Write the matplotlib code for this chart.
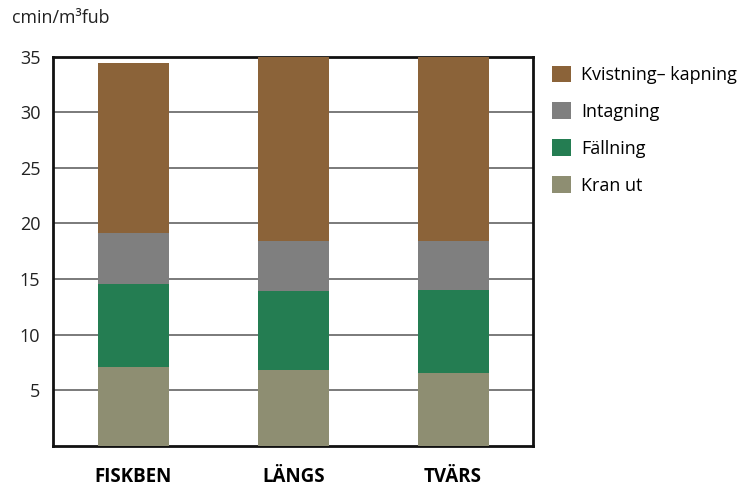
import matplotlib
matplotlib.use("Agg")
import matplotlib.pyplot as plt
import numpy as np

plt.rcParams["font.family"] = ["Open Sans", "DejaVu Sans"]

# -------------------------
# DATA
# -------------------------
categories = ["FISKBEN", "LÄNGS", "TVÄRS"]
series_names = ["Kran ut", "Fällning", "Intagning", "Kvistning\u2013 kapning"]
kran_ut = [7.05, 6.8, 6.55]
fallning = [7.55, 7.1, 7.5]
intagning = [4.55, 4.5, 4.4]
kvistning = [15.3, 16.7, 16.6]
series_values = [kran_ut, fallning, intagning, kvistning]
colors = ["#8e8e72", "#247d52", "#7f7f7f", "#8b6339"]
y_ticks = [5, 10, 15, 20, 25, 30, 35]

# -------------------------
# PLOT
# -------------------------
fig = plt.figure(figsize=(7.5, 4.86), dpi=100)
ax = fig.add_axes([0.0713, 0.0827, 0.6394, 0.8006])

x = np.arange(len(categories))
bottom = np.zeros(len(categories))
handles = []
for name, vals, col in zip(series_names, series_values, colors):
    b = ax.bar(x, vals, width=0.445, bottom=bottom, color=col, label=name, zorder=3)
    handles.append(b)
    bottom += np.array(vals)

ax.set_xlim(-0.5, 2.5)
ax.set_ylim(0, 35)
ax.set_yticks(y_ticks)
ax.set_yticklabels([str(t) for t in y_ticks], fontsize=13)
ax.set_xticks(x)
ax.set_xticklabels(categories, fontsize=13.5, fontweight="bold")
ax.tick_params(axis="y", length=0, pad=9.5, colors="#222222")
ax.tick_params(axis="x", length=0, pad=15)
ax.yaxis.grid(True, color="#7a7a7a", linewidth=1.4, zorder=0)
for s in ax.spines.values():
    s.set_linewidth(2)
    s.set_color("#111111")

fig.text(0.016, 0.962, "cmin/m\u00b3fub", fontsize=12.9, va="center", ha="left", color="#222222")

fig.legend(handles[::-1], series_names[::-1], loc="upper left",
           bbox_to_anchor=(0.7263, 0.88), frameon=False, fontsize=13,
           handlelength=1.05, handleheight=1.05, handletextpad=0.55,
           labelspacing=1.02, borderaxespad=0)

plt.savefig("out.png", dpi=100)
plt.close()
